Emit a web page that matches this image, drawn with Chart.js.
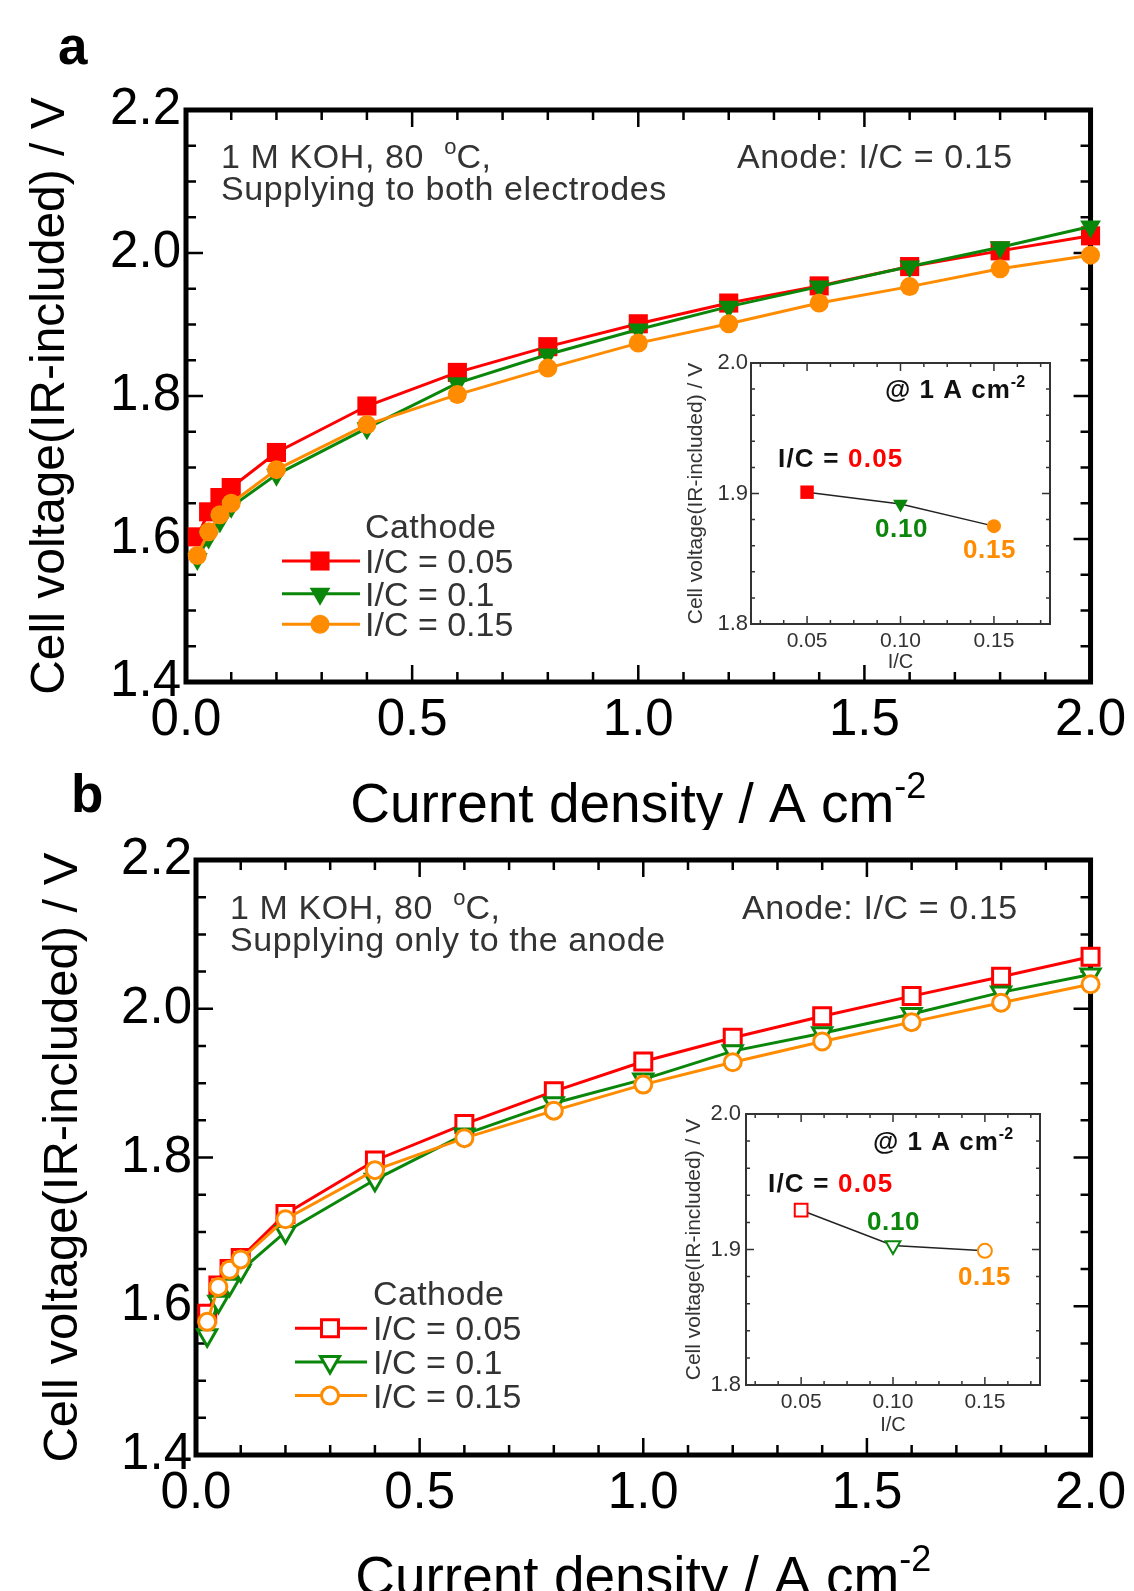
<!DOCTYPE html>
<html>
<head>
<meta charset="utf-8">
<title>Cell voltage vs current density</title>
<script src="https://cdn.jsdelivr.net/npm/chart.js"></script>
<style>
  html, body { margin: 0; padding: 0; background: #fff; }
  #page { position: relative; width: 1134px; height: 1591px; overflow: hidden; background: #fff; }
  #page canvas { position: absolute; }
</style>
</head>
<body>
<div id="page">
  <canvas id="mainA" style="left:0px;top:0px" width="1134" height="830"></canvas>
  <canvas id="mainB" style="left:0px;top:740px" width="1134" height="851"></canvas>
  <canvas id="insetA" style="left:660px;top:335px" width="410" height="345"></canvas>
  <canvas id="insetB" style="left:655px;top:1085px" width="405" height="360"></canvas>
</div>
<script>
// ---- data ----
const currentDensity = [0.025, 0.05, 0.075, 0.1, 0.2, 0.4, 0.6, 0.8, 1.0, 1.2, 1.4, 1.6, 1.8, 2.0];

// a: supplying to both electrodes
const voltA_005 = [1.603, 1.638, 1.658, 1.672, 1.721, 1.786, 1.833, 1.869, 1.901, 1.930, 1.954, 1.981, 2.003, 2.024];
const voltA_010 = [1.572, 1.602, 1.625, 1.645, 1.690, 1.755, 1.818, 1.858, 1.893, 1.925, 1.953, 1.981, 2.008, 2.037];
const voltA_015 = [1.577, 1.610, 1.634, 1.650, 1.697, 1.760, 1.802, 1.839, 1.874, 1.901, 1.930, 1.953, 1.978, 1.997];

// b: supplying only to the anode
const voltB_005 = [1.590, 1.628, 1.650, 1.665, 1.724, 1.796, 1.845, 1.889, 1.929, 1.961, 1.990, 2.017, 2.043, 2.070];
const voltB_010 = [1.561, 1.606, 1.629, 1.648, 1.700, 1.770, 1.831, 1.873, 1.905, 1.943, 1.967, 1.993, 2.022, 2.046];
const voltB_015 = [1.579, 1.626, 1.649, 1.663, 1.717, 1.783, 1.826, 1.863, 1.898, 1.928, 1.956, 1.982, 2.008, 2.033];

const cathodeLabels = ['I/C = 0.05', 'I/C = 0.1', 'I/C = 0.15'];

// insets: voltage at 1 A cm-2 vs cathode I/C
const insetRatio = [0.05, 0.10, 0.15];
const insetRatioLabels = ['0.05', '0.10', '0.15'];
const insetVoltA = [1.901, 1.892, 1.875];
const insetVoltB = [1.929, 1.903, 1.899];

// tick labels
const mainXTicks = [0, 0.5, 1.0, 1.5, 2.0];
const mainYTicks = [1.4, 1.6, 1.8, 2.0, 2.2];
const insetXTicks = [0.05, 0.10, 0.15];
const insetYTicks = [1.8, 1.9, 2.0];

// ---- styles ----
const RED = '#ff0000', GREEN = '#0a870a', ORANGE = '#ff8c00';
const seriesColors = [RED, GREEN, ORANGE];
const seriesStyles = ['rect', 'triangle', 'circle'];
const seriesRotation = [0, 180, 0];
const FONT = "'Liberation Sans', Arial, Helvetica, sans-serif";
const TEXT = '#333';

function pts(xs, ys) {
  return xs.map((x, i) => ({x: x, y: ys[i]}));
}

function drawRuns(ctx, x, y, runs, align) {
  ctx.save();
  ctx.textBaseline = 'alphabetic';
  ctx.textAlign = 'left';
  const setFont = r => { ctx.font = r.font; ctx.letterSpacing = (r.ls || 0) + 'px'; };
  let total = 0;
  runs.forEach(r => { setFont(r); total += ctx.measureText(r.text).width; });
  let cx = align === 'center' ? x - total / 2 : x;
  runs.forEach(r => {
    setFont(r);
    ctx.fillStyle = r.color || '#000';
    ctx.fillText(r.text, cx, y + (r.dy || 0));
    cx += ctx.measureText(r.text).width;
  });
  ctx.restore();
}

function stepValues(min, max, step) {
  const out = [];
  for (let k = Math.ceil(min / step - 1e-6); k * step <= max + 1e-9; k++) {
    const v = k * step;
    if (v > min + 1e-9 && v < max - 1e-9) out.push(v);
  }
  return out;
}
function isMajor(v, m) {
  return Math.abs(v / m - Math.round(v / m)) < 1e-6;
}

// frame + inward ticks on all four sides
const frameTicks = {
  id: 'frameTicks',
  beforeDatasetsDraw(chart, args, o) {
    const {ctx, chartArea: a, scales: {x, y}} = chart;
    ctx.save();
    if (o.fill) { ctx.fillStyle = o.fill; ctx.fillRect(a.left, a.top, a.width, a.height); }
    ctx.strokeStyle = o.color;
    ctx.lineWidth = o.tickWidth;
    ctx.beginPath();
    stepValues(x.min, x.max, o.xMinor).forEach(v => {
      const px = x.getPixelForValue(v);
      const len = isMajor(v, o.xMajor) ? o.majorLen : o.minorLen;
      ctx.moveTo(px, a.bottom); ctx.lineTo(px, a.bottom - len);
      ctx.moveTo(px, a.top); ctx.lineTo(px, a.top + len);
    });
    stepValues(y.min, y.max, o.yMinor).forEach(v => {
      const py = y.getPixelForValue(v);
      const len = isMajor(v, o.yMajor) ? o.majorLen : o.minorLen;
      ctx.moveTo(a.left, py); ctx.lineTo(a.left + len, py);
      ctx.moveTo(a.right, py); ctx.lineTo(a.right - len, py);
    });
    ctx.stroke();
    ctx.lineWidth = o.frameWidth;
    ctx.strokeRect(a.left, a.top, a.width, a.height);
    ctx.restore();
  }
};

// notes, legend and x title of a main panel
function mainNotes(cfg) {
  return {
    id: 'mainNotes',
    afterDraw(chart) {
      const {ctx, chartArea: a} = chart;
      const f34 = '34px ' + FONT;
      drawRuns(ctx, cfg.letterX, cfg.letterY, [{text: cfg.letter, font: 'bold 53px ' + FONT, color: '#000'}]);
      drawRuns(ctx, a.left + cfg.noteDx, a.top + cfg.noteDy, [
        {text: '1 M KOH, 80  ', font: f34, color: TEXT, ls: 0.6},
        {text: 'o', font: '22px ' + FONT, color: TEXT, dy: -14},
        {text: 'C,', font: f34, color: TEXT, ls: 0.6}
      ]);
      drawRuns(ctx, a.left + cfg.noteDx, a.top + cfg.noteDy + 32, [{text: cfg.supply, font: f34, color: TEXT, ls: 0.6}]);
      drawRuns(ctx, a.left + cfg.anodeDx, a.top + cfg.noteDy, [{text: 'Anode: I/C = 0.15', font: f34, color: TEXT, ls: 0.6}]);

      // legend
      const lg = cfg.legend;
      drawRuns(ctx, a.left + lg.textDx, a.top + lg.titleDy, [{text: 'Cathode', font: f34, color: TEXT, ls: 0.4}]);
      chart.data.datasets.forEach((ds, i) => {
        const yy = a.top + lg.rowDy[i];
        ctx.save();
        ctx.strokeStyle = ds.borderColor;
        ctx.lineWidth = ds.borderWidth;
        ctx.beginPath();
        ctx.moveTo(a.left + lg.lineFrom, yy);
        ctx.lineTo(a.left + lg.lineTo, yy);
        ctx.stroke();
        ctx.fillStyle = ds.pointBackgroundColor;
        ctx.strokeStyle = ds.pointBorderColor;
        ctx.lineWidth = ds.pointBorderWidth;
        Chart.helpers.drawPoint(ctx, {
          pointStyle: ds.pointStyle, radius: ds.pointRadius,
          rotation: ds.pointRotation, borderWidth: ds.pointBorderWidth
        }, a.left + lg.mark, yy);
        ctx.restore();
        drawRuns(ctx, a.left + lg.textDx, yy + 12, [{text: ds.label, font: f34, color: TEXT}]);
      });

      // x axis title with superscript
      drawRuns(ctx, (a.left + a.right) / 2, a.bottom + 140, [
        {text: 'Current density / A cm', font: '55px ' + FONT, color: '#000'},
        {text: '-2', font: '36px ' + FONT, color: '#000', dy: -24}
      ], 'center');
    }
  };
}

function mainChart(id, series, cfg) {
  const datasets = series.map((ys, i) => ({
    label: cathodeLabels[i],
    data: pts(currentDensity, ys),
    borderColor: seriesColors[i],
    backgroundColor: seriesColors[i],
    borderWidth: 3,
    tension: 0,
    pointStyle: seriesStyles[i],
    pointRotation: seriesRotation[i],
    pointRadius: cfg.radii[i],
    pointBackgroundColor: cfg.open ? '#fff' : seriesColors[i],
    pointBorderColor: seriesColors[i],
    pointBorderWidth: cfg.open ? 3 : 0,
    order: 3 - i,
    clip: false
  }));
  return new Chart(document.getElementById(id), {
    type: 'line',
    data: {datasets: datasets},
    options: {
      responsive: false,
      animation: false,
      devicePixelRatio: 1,
      events: [],
      layout: {autoPadding: false, padding: {top: cfg.padTop, right: cfg.padRight, left: 0, bottom: 0}},
      plugins: {
        legend: {display: false},
        tooltip: {enabled: false},
        frameTicks: {color: '#000', tickWidth: 2.5, frameWidth: 5, majorLen: 17, minorLen: 10,
                     xMinor: 0.1, xMajor: 0.5, yMinor: 0.05, yMajor: 0.2}
      },
      scales: {
        x: {
          type: 'linear', min: 0, max: 2,
          grid: {display: false, drawTicks: false},
          border: {display: false},
          afterBuildTicks: s => { s.ticks = mainXTicks.map(v => ({value: v})); },
          afterFit: s => { s.height = cfg.xAxisHeight; },
          ticks: {autoSkip: false, maxRotation: 0, padding: cfg.xTickPad, color: '#000',
                  font: {family: FONT, size: 51}, callback: v => v.toFixed(1)}
        },
        y: {
          type: 'linear', min: 1.4, max: 2.2,
          grid: {display: false, drawTicks: false},
          border: {display: false},
          afterBuildTicks: s => { s.ticks = mainYTicks.map(v => ({value: v})); },
          afterFit: s => { s.width = cfg.yAxisWidth; },
          ticks: {autoSkip: false, padding: cfg.yTickPad, color: '#000',
                  font: {family: FONT, size: 51}, callback: v => v.toFixed(1)},
          title: {display: true, text: 'Cell voltage(IR-included) / V', color: '#000',
                  font: {family: FONT, size: cfg.yTitleSize}, padding: {top: cfg.yTitlePad, bottom: 0}}
        }
      }
    },
    plugins: [frameTicks, mainNotes(cfg)]
  });
}

function insetNotes(cfg) {
  return {
    id: 'insetNotes',
    afterDraw(chart) {
      const {ctx, chartArea: a} = chart;
      const fb = 'bold 26px ' + FONT;
      drawRuns(ctx, a.left + cfg.atDx, a.top + cfg.atDy, [
        {text: '@ 1 A cm', font: fb, color: '#111', ls: 1},
        {text: '-2', font: 'bold 16px ' + FONT, color: '#111', dy: -11}
      ]);
      drawRuns(ctx, a.left + cfg.lab[0][0], a.top + cfg.lab[0][1], [
        {text: 'I/C = ', font: fb, color: '#111', ls: 1.2},
        {text: insetRatioLabels[0], font: fb, color: RED, ls: 1.2}
      ]);
      drawRuns(ctx, a.left + cfg.lab[1][0], a.top + cfg.lab[1][1], [{text: insetRatioLabels[1], font: fb, color: GREEN, ls: 0.6}]);
      drawRuns(ctx, a.left + cfg.lab[2][0], a.top + cfg.lab[2][1], [{text: insetRatioLabels[2], font: fb, color: ORANGE, ls: 0.6}]);
    }
  };
}

function insetChart(id, volts, cfg) {
  return new Chart(document.getElementById(id), {
    type: 'line',
    data: {
      datasets: [{
        data: pts(insetRatio, volts),
        borderColor: '#222',
        borderWidth: 1.5,
        tension: 0,
        pointStyle: seriesStyles,
        pointRotation: seriesRotation,
        pointRadius: cfg.radii,
        pointBackgroundColor: cfg.open ? ['#fff', '#fff', '#fff'] : seriesColors,
        pointBorderColor: seriesColors,
        pointBorderWidth: cfg.open ? 2 : 0,
        clip: false
      }]
    },
    options: {
      responsive: false,
      animation: false,
      devicePixelRatio: 1,
      events: [],
      layout: {autoPadding: false, padding: {top: cfg.padTop, right: cfg.padRight, left: 0, bottom: 0}},
      plugins: {
        legend: {display: false},
        tooltip: {enabled: false},
        frameTicks: {color: '#333', tickWidth: 1.5, frameWidth: 2, majorLen: 8, minorLen: 4, fill: '#fff',
                     xMinor: 0.0125, xMajor: 0.05, yMinor: 0.02, yMajor: 0.1}
      },
      scales: {
        x: {
          type: 'linear', min: 0.02, max: 0.18,
          grid: {display: false, drawTicks: false},
          border: {display: false},
          afterBuildTicks: s => { s.ticks = insetXTicks.map(v => ({value: v})); },
          afterFit: s => { s.height = cfg.xAxisHeight; },
          ticks: {autoSkip: false, maxRotation: 0, padding: cfg.xTickPad, color: TEXT,
                  font: {family: FONT, size: 21}, callback: v => v.toFixed(2)},
          title: {display: true, text: 'I/C', color: TEXT, font: {family: FONT, size: 20},
                  padding: {top: 0, bottom: cfg.xTitlePad}}
        },
        y: {
          type: 'linear', min: 1.8, max: 2.0,
          grid: {display: false, drawTicks: false},
          border: {display: false},
          afterBuildTicks: s => { s.ticks = insetYTicks.map(v => ({value: v})); },
          afterFit: s => { s.width = cfg.yAxisWidth; },
          ticks: {autoSkip: false, padding: cfg.yTickPad, color: TEXT,
                  font: {family: FONT, size: 22}, callback: v => v.toFixed(1)},
          title: {display: true, text: 'Cell voltage(IR-included) / V', color: TEXT,
                  font: {family: FONT, size: 21}, padding: {top: cfg.yTitlePad, bottom: 0}}
        }
      }
    },
    plugins: [frameTicks, insetNotes(cfg)]
  });
}

mainChart('mainA', [voltA_005, voltA_010, voltA_015], {
  open: false, radii: [13.5, 12, 9.5],
  padTop: 110, padRight: 39, yAxisWidth: 186, xAxisHeight: 148,
  xTickPad: 8, yTickPad: 5, yTitleSize: 48, yTitlePad: 22,
  letter: 'a', letterX: 58, letterY: 64,
  supply: 'Supplying to both electrodes',
  noteDx: 35, noteDy: 58, anodeDx: 551,
  legend: {titleDy: 428, rowDy: [451, 483.7, 514.3], lineFrom: 96, lineTo: 174, mark: 134, textDx: 179}
});

mainChart('mainB', [voltB_005, voltB_010, voltB_015], {
  open: true, radii: [12, 11, 8.5],
  padTop: 120, padRight: 39, yAxisWidth: 196, xAxisHeight: 136,
  xTickPad: 8, yTickPad: 4, yTitleSize: 49, yTitlePad: 34,
  letter: 'b', letterX: 71, letterY: 72,
  supply: 'Supplying only to the anode',
  noteDx: 34, noteDy: 59, anodeDx: 546,
  legend: {titleDy: 444.6, rowDy: [468.3, 502, 535.6], lineFrom: 99, lineTo: 171, mark: 134, textDx: 177}
});

insetChart('insetA', insetVoltA, {
  open: false, radii: [9.5, 8.5, 7],
  padTop: 28, padRight: 20, yAxisWidth: 91, xAxisHeight: 56,
  xTickPad: 5, yTickPad: 3, yTitlePad: 24, xTitlePad: 6,
  atDx: 134, atDy: 35, lab: [[27, 104], [124, 174], [212, 195]]
});

insetChart('insetB', insetVoltB, {
  open: true, radii: [9, 8.5, 7],
  padTop: 29, padRight: 20, yAxisWidth: 91, xAxisHeight: 60,
  xTickPad: 5, yTickPad: 5, yTitlePad: 27, xTitlePad: 8,
  atDx: 127, atDy: 36, lab: [[22, 78], [121, 116], [212, 171]]
});
</script>
</body>
</html>
